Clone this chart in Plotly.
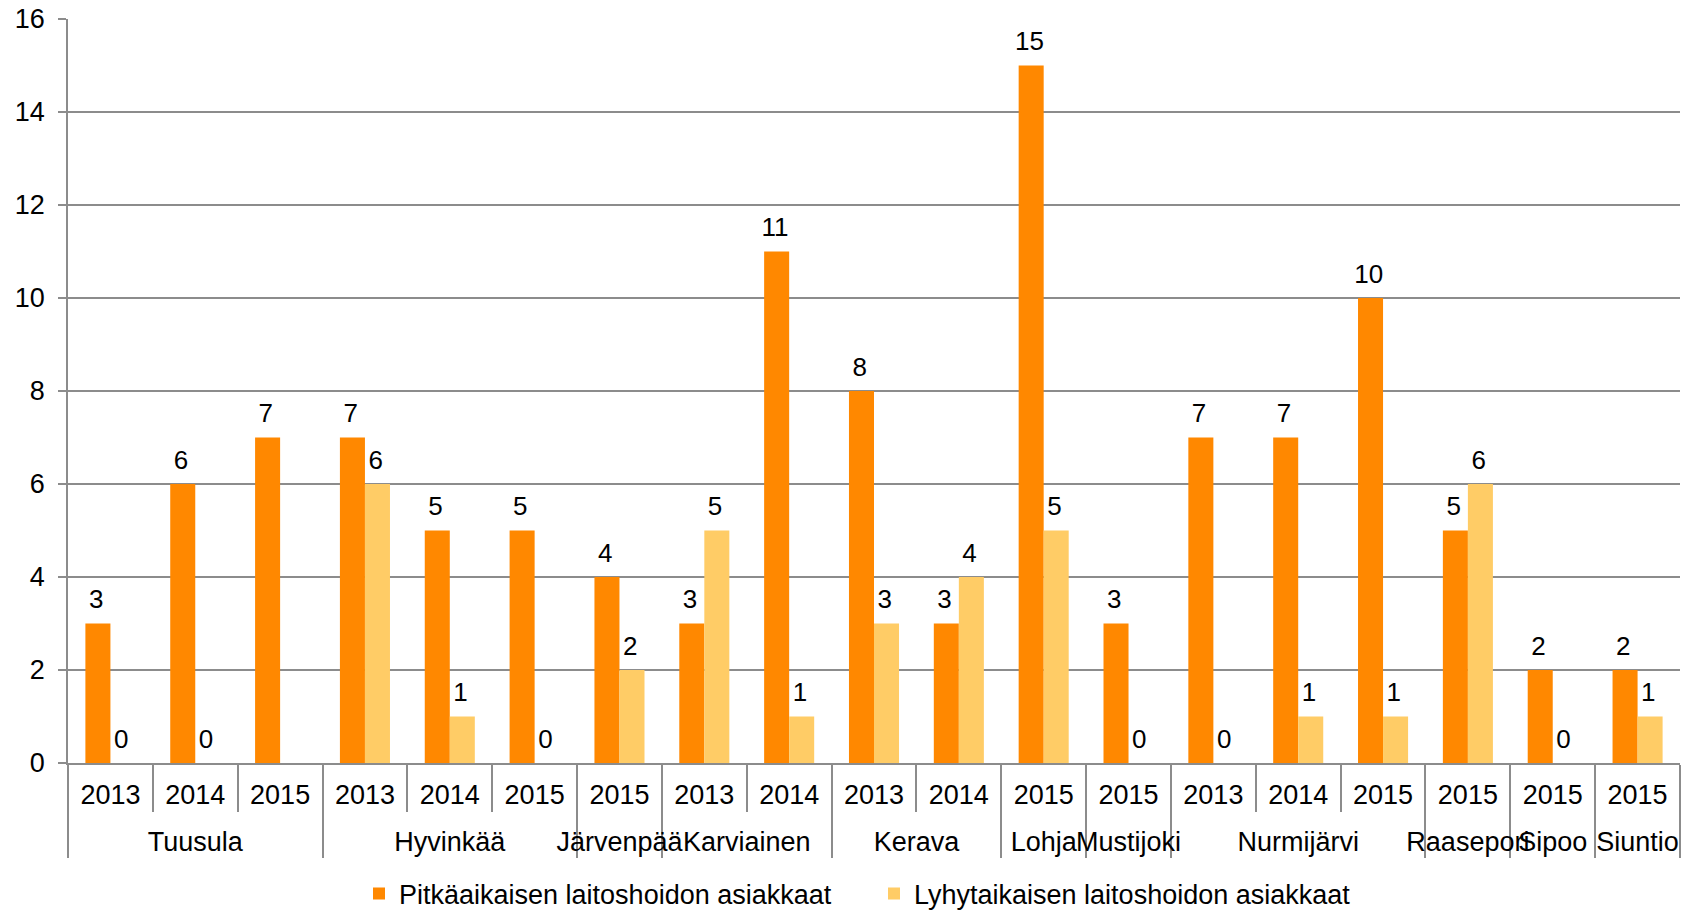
import plotly.graph_objects as go

municipalities = ["Tuusula", "Tuusula", "Tuusula", "Hyvinkää", "Hyvinkää", "Hyvinkää",
                  "Järvenpää", "Karviainen", "Karviainen", "Kerava", "Kerava", "Lohja",
                  "Mustijoki", "Nurmijärvi", "Nurmijärvi", "Nurmijärvi", "Raasepori",
                  "Sipoo", "Siuntio"]
years = ["2013", "2014", "2015", "2013", "2014", "2015", "2015", "2013", "2014",
         "2013", "2014", "2015", "2015", "2013", "2014", "2015", "2015", "2015", "2015"]
long_term = [3, 6, 7, 7, 5, 5, 4, 3, 11, 8, 3, 15, 3, 7, 7, 10, 5, 2, 2]
short_term = [0, 0, None, 6, 1, 0, 2, 5, 1, 3, 4, 5, 0, 0, 1, 1, 6, 0, 1]
y_ticks = [0, 2, 4, 6, 8, 10, 12, 14, 16]

FONT = "Liberation Sans, Arial, sans-serif"
GRID = "#8c8c8c"
FS = 27

# year labels get an invisible spacer line so the municipality row sits lower
year_labels = [y + "<br><sup>&nbsp;</sup>" for y in years]


def value_label(v):
    # small invisible subscript spacer lifts the label a little above the bar
    return "" if v is None else str(v) + "<sub><sub>&nbsp;</sub></sub>"


fig = go.Figure()
fig.add_trace(go.Bar(
    x=[municipalities, year_labels], y=long_term,
    name="Pitkäaikaisen laitoshoidon asiakkaat",
    marker=dict(color="#FF8800", line=dict(width=0)),
    text=[value_label(v) for v in long_term], textposition="outside",
    textfont=dict(size=FS - 1, color="#000000", family=FONT),
    cliponaxis=False,
))
fig.add_trace(go.Bar(
    x=[municipalities, year_labels], y=short_term,
    name="Lyhytaikaisen laitoshoidon asiakkaat",
    marker=dict(color="#FFCC66", line=dict(width=0)),
    text=[value_label(v) for v in short_term], textposition="outside",
    textfont=dict(size=FS - 1, color="#000000", family=FONT),
    cliponaxis=False,
))

fig.update_layout(
    width=1682, height=903,
    margin=dict(l=60, r=10, t=11, b=148, autoexpand=False),
    paper_bgcolor="white", plot_bgcolor="white",
    font=dict(family=FONT, size=FS, color="#000000"),
    barmode="group", bargap=0.41, bargroupgap=0,
    showlegend=True,
    legend=dict(orientation="h", x=0.5, xanchor="center", yref="container",
                y=0.019, yanchor="middle", font=dict(size=FS), itemwidth=30,
                entrywidth=470, traceorder="normal"),
    uniformtext=dict(minsize=FS - 1, mode="show"),
)
fig.update_yaxes(
    range=[0, 16], tickvals=y_ticks, showgrid=True, gridcolor=GRID, gridwidth=1.5,
    showline=True, linecolor=GRID, linewidth=1.5, ticks="outside", ticklen=8,
    tickcolor=GRID, tickwidth=1.5, tickfont=dict(size=FS), zeroline=False,
    ticklabelstandoff=8, ticklabeloverflow="allow", automargin=False,
)
fig.update_xaxes(
    type="multicategory", showline=True, linecolor=GRID, linewidth=1.5,
    ticks="outside", ticklen=47, tickcolor=GRID, tickwidth=1.5,
    showdividers=True, dividercolor=GRID, dividerwidth=1.5,
    tickfont=dict(size=FS), tickangle=0, ticklabelstandoff=7, automargin=False,
)

fig.write_html("out.html")
